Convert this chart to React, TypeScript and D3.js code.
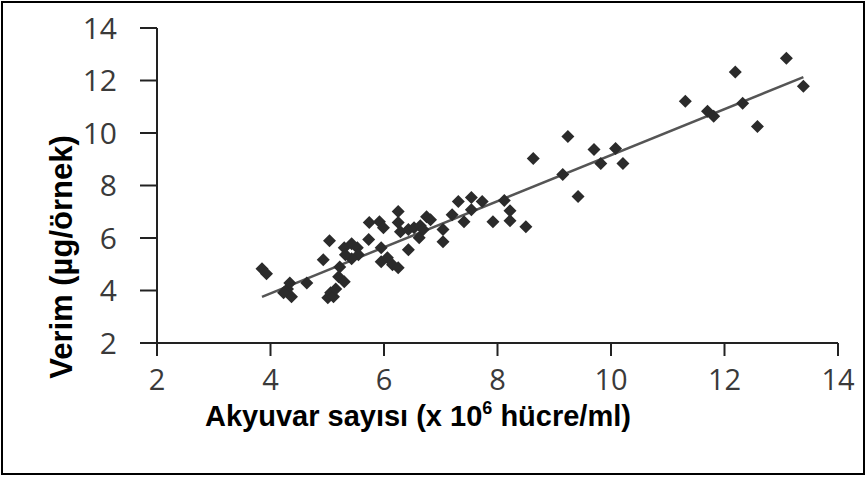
import React from "react";
import * as d3 from "d3";

const W = 866;
const H = 477;

const xTicks = [2, 4, 6, 8, 10, 12, 14];
const yTicks = [2, 4, 6, 8, 10, 12, 14];

const pointsX = [
  3.85, 3.93, 4.3, 4.37, 4.34, 4.23, 4.64, 4.93, 5.04, 5.01, 5.06, 5.11, 5.15, 5.2, 5.3, 5.22,
  5.3, 5.43, 5.53, 5.55, 5.43, 5.32, 5.73, 5.74, 5.92, 5.99, 5.95, 5.95, 6.06, 6.15, 6.25,
  6.25, 6.25, 6.29, 6.43, 6.43, 6.53, 6.64, 6.62, 6.75, 6.82, 6.69, 7.04, 7.04, 7.2, 7.31,
  7.41, 7.54, 7.54, 7.73, 7.92, 8.12, 8.22, 8.22, 8.5, 8.63, 9.15, 9.24, 9.42, 9.7, 9.82,
  10.08, 10.21, 11.31, 11.7, 11.81, 12.19, 12.32, 12.58, 13.09, 13.39,
];
const pointsY = [
  4.83, 4.64, 4.06, 3.76, 4.29, 3.91, 4.29, 5.17, 5.9, 3.72, 3.91, 3.76, 4.06, 4.52, 4.33, 4.9,
  5.63, 5.78, 5.63, 5.36, 5.21, 5.36, 5.94, 6.59, 6.62, 6.39, 5.63, 5.1, 5.25, 4.98, 4.87,
  7.01, 6.59, 6.24, 6.32, 5.55, 6.39, 6.47, 6.01, 6.81, 6.7, 6.32, 6.32, 5.86, 6.89, 7.39,
  6.62, 7.54, 7.08, 7.39, 6.62, 7.43, 7.04, 6.66, 6.43, 9.03, 8.42, 9.87, 7.58, 9.37, 8.84,
  9.41, 8.84, 11.21, 10.83, 10.64, 12.32, 11.13, 10.25, 12.85, 11.78,
];

const fitX = [3.85, 13.39];
const fitY = [3.76, 12.13];

const xTitle = "Akyuvar sayısı (x 10";
const xTitleSup = "6";
const xTitleEnd = " hücre/ml)";
const yTitle = "Verim (µg/örnek)";

export default function App() {
  const x = d3.scaleLinear().domain([2, 14]).range([157, 838]);
  const y = d3.scaleLinear().domain([2, 14]).range([343, 28]);
  const line = d3
    .line<number>()
    .x((d) => x(fitX[d]))
    .y((d) => y(fitY[d]));
  const diamond = "M0,-6.5L6.5,0L0,6.5L-6.5,0Z";
  const tickFont = "'Open Sans', 'DejaVu Sans', sans-serif";
  const titleFont = "'Liberation Sans', Arial, sans-serif";
  return (
    <svg
      width={W}
      height={H}
      style={{ position: "absolute", left: 0, top: 0, background: "#fff" }}
    >
      <rect x={2} y={2} width={W - 4} height={H - 5} fill="#fff" stroke="#000" strokeWidth={2} />
      {/* axes */}
      <line x1={x(2)} x2={x(2)} y1={y(14)} y2={y(2) + 13} stroke="#222" strokeWidth={2} />
      <line x1={x(2)} x2={x(14)} y1={y(2)} y2={y(2)} stroke="#222" strokeWidth={2} />
      {yTicks.map((t) => (
        <g key={"y" + t}>
          <line x1={x(2) - 17} x2={x(2)} y1={y(t)} y2={y(t)} stroke="#222" strokeWidth={2} />
          <text
            x={117}
            y={y(t)}
            dy="0.36em"
            textAnchor="end"
            fontFamily={tickFont}
            fontSize={30}
            fill="#3a3a3a"
          >
            {t}
          </text>
        </g>
      ))}
      {xTicks.map((t) => (
        <g key={"x" + t}>
          <line x1={x(t)} x2={x(t)} y1={y(2)} y2={y(2) + 13} stroke="#222" strokeWidth={2} />
          <text
            x={x(t)}
            y={380}
            dy="0.36em"
            textAnchor="middle"
            fontFamily={tickFont}
            fontSize={29}
            fill="#3a3a3a"
          >
            {t}
          </text>
        </g>
      ))}
      {/* fit line */}
      <path d={line([0, 1]) || ""} fill="none" stroke="#555" strokeWidth={2.5} />
      {/* points */}
      {pointsX.map((px, i) => (
        <path key={i} d={diamond} transform={`translate(${x(px)},${y(pointsY[i])})`} fill="#2b2b2b" />
      ))}
      {/* titles */}
      <text
        x={205}
        y={426}
        fontFamily={titleFont}
        fontWeight="bold"
        fontSize={29}
        fill="#000"
      >
        {xTitle}
        <tspan fontSize={18} dy={-12}>
          {xTitleSup}
        </tspan>
        <tspan dy={12}>{xTitleEnd}</tspan>
      </text>
      <text
        transform={`translate(72,257) rotate(-90)`}
        textAnchor="middle"
        fontFamily={titleFont}
        fontWeight="bold"
        fontSize={31}
        fill="#000"
      >
        {yTitle}
      </text>
    </svg>
  );
}
